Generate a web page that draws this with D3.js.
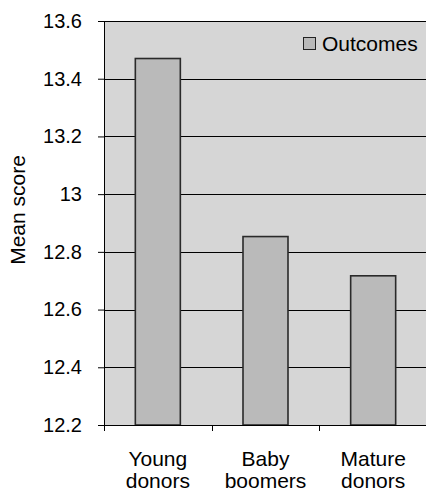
<!DOCTYPE html>
<html>
<head>
<meta charset="utf-8">
<script src="https://cdn.jsdelivr.net/npm/d3@7"></script>
<style>
  html, body { margin: 0; padding: 0; background: #fff; }
  svg { display: block; font-family: "Liberation Sans", Arial, sans-serif; }
</style>
</head>
<body>
<svg id="chart" width="426" height="492"></svg>
<script>
// Mean outcome scores by donor generation
const categories = [["Young", "donors"], ["Baby", "boomers"], ["Mature", "donors"]];
const outcomes = [13.47, 12.853, 12.717];
const yTicks = [12.2, 12.4, 12.6, 12.8, 13, 13.2, 13.4, 13.6];
const seriesName = "Outcomes";

const width = 426, height = 492;
const margin = { top: 21, left: 104, bottom: 67 };
const plotW = 323;
const plotH = height - margin.top - margin.bottom;

const svg = d3.select("#chart");
const g = svg.append("g").attr("transform", `translate(${margin.left},${margin.top})`);

const x = d3.scaleBand().domain(d3.range(categories.length)).range([0, plotW]).paddingInner(0).paddingOuter(0);
const y = d3.scaleLinear().domain([12.2, 13.6]).range([plotH, 0]);

// plot background
g.append("rect").attr("x", 0).attr("y", 0).attr("width", plotW).attr("height", plotH).attr("fill", "#d6d6d6");

// horizontal gridlines
g.selectAll("line.grid").data(yTicks).join("line")
  .attr("class", "grid")
  .attr("x1", 0).attr("x2", plotW)
  .attr("y1", d => Math.round(y(d)) + 0.5).attr("y2", d => Math.round(y(d)) + 0.5)
  .attr("stroke", "#000").attr("stroke-width", 1);

// bars
const barW = 45;
g.selectAll("rect.bar").data(outcomes).join("rect")
  .attr("class", "bar")
  .attr("x", (d, i) => x(i) + x.bandwidth() / 2 - barW / 2)
  .attr("y", d => y(d))
  .attr("width", barW)
  .attr("height", d => plotH - y(d))
  .attr("fill", "#bababa")
  .attr("stroke", "#2a2a2a").attr("stroke-width", 1.6);

// y axis
const yAxis = g.append("g")
  .call(d3.axisLeft(y).tickValues(yTicks).tickSize(6).tickPadding(16).tickFormat(d3.format("~g")));
yAxis.select(".domain").attr("stroke", "#000").attr("d", `M0.5,0V${plotH}`);
yAxis.selectAll(".tick line").attr("stroke", "#000");
yAxis.selectAll(".tick text").attr("font-size", 20).attr("fill", "#000")
  .attr("font-family", "Liberation Sans, Arial, sans-serif");

// x axis: ticks at category boundaries
const xb = g.append("g").attr("transform", `translate(0,${plotH})`);
xb.append("line").attr("x1", 0).attr("x2", plotW).attr("y1", 0.5).attr("y2", 0.5).attr("stroke", "#000");
xb.selectAll("line.xt").data(d3.range(categories.length + 1)).join("line")
  .attr("class", "xt")
  .attr("x1", i => Math.round(i * x.step()) + 0.5).attr("x2", i => Math.round(i * x.step()) + 0.5)
  .attr("y1", 0).attr("y2", 6).attr("stroke", "#000");

const xl = xb.selectAll("text.xl").data(categories).join("text")
  .attr("class", "xl")
  .attr("text-anchor", "middle")
  .attr("font-size", 21).attr("fill", "#000");
xl.each(function(d, i) {
  const t = d3.select(this);
  d.forEach((line, k) => {
    t.append("tspan").attr("x", x(i) + x.bandwidth() / 2).attr("y", 41 + k * 22).text(line);
  });
});

// y axis title
svg.append("text")
  .attr("transform", `translate(25,210) rotate(-90)`)
  .attr("text-anchor", "middle")
  .attr("font-size", 21).attr("fill", "#000")
  .text("Mean score");

// legend
const lg = svg.append("g").attr("transform", "translate(303,37)");
lg.append("rect").attr("x", 0.5).attr("y", 0.5).attr("width", 12).attr("height", 12)
  .attr("fill", "#bababa").attr("stroke", "#222").attr("stroke-width", 1);
lg.append("text").attr("x", 19).attr("y", 13.5).attr("font-size", 21).attr("fill", "#000").text(seriesName);
</script>
</body>
</html>
